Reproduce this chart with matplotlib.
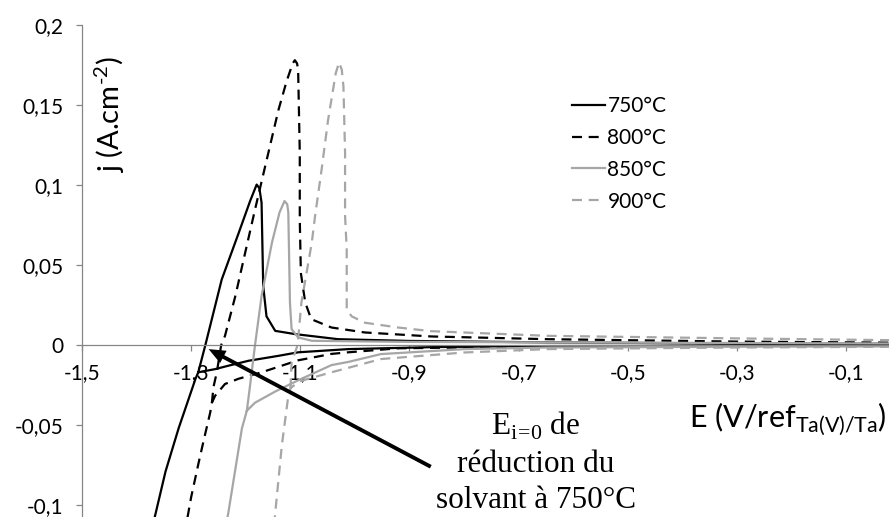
import numpy as np
import matplotlib.pyplot as plt
from matplotlib.ticker import FuncFormatter

nan = np.nan

# cyclic voltammograms (E in V, j in A/cm2)
# each sweep: cathodic branch right -> left down to the bottom, nan, then anodic branch back up
E_750 = [0.0, -0.3, -0.647, -0.85, -1.012, -1.104, -1.14, -1.195, -1.232, -1.256, -1.287,
         -1.292, -1.323, -1.347, -1.365, -1.37, nan,
         -1.287, -1.274, -1.244, -1.213, -1.192, -1.18, -1.175, -1.171, -1.168, -1.162,
         -1.146, -1.11, -1.031, -0.9, -0.647, -0.3, 0.0]
j_750 = [-0.0003, -0.0004, -0.0006, -0.0012, -0.0025, -0.0045, -0.0067, -0.0098, -0.0129, -0.015, -0.017,
         -0.021, -0.052, -0.079, -0.105, -0.112, nan,
         -0.017, 0.0, 0.041, 0.070, 0.090, 0.1003, 0.098, 0.089, 0.037, 0.018,
         0.0089, 0.0069, 0.0037, 0.0026, 0.0017, 0.001, 0.0008]

E_800 = [0.0, -0.3, -0.647, -0.921, -1.012, -1.043, -1.104, -1.171, -1.213, -1.238, -1.256, -1.262,
         -1.265, -1.276, -1.286, -1.3, -1.309, nan,
         -1.262, -1.259, -1.253, -1.245, -1.238, -1.219, -1.201, -1.183, -1.168, -1.14, -1.125,
         -1.114, -1.11, -1.106, -1.104, -1.101, -1.101, -1.099, -1.091, -1.08, -1.043, -0.982,
         -0.86, -0.647, -0.3, 0.0]
j_800 = [-0.0004, -0.0005, -0.0008, -0.002, -0.0045, -0.0055, -0.0095, -0.017, -0.021, -0.0243, -0.0316, -0.036,
         -0.042, -0.058, -0.073, -0.095, -0.112, nan,
         -0.036, -0.026, -0.017, 0.0, 0.0058, 0.0307, 0.0578, 0.0847, 0.1065, 0.147, 0.165,
         0.176, 0.178, 0.176, 0.172, 0.12, 0.0785, 0.045, 0.0266, 0.0162, 0.011, 0.0079,
         0.0054, 0.0037, 0.0022, 0.0015]

E_850 = [0.0, -0.3, -0.647, -0.799, -0.952, -1.012, -1.043, -1.104, -1.146, -1.183, -1.198,
         -1.207, -1.232, -1.236, nan,
         -1.198, -1.192, -1.183, -1.171, -1.152, -1.138, -1.129, -1.124, -1.122, -1.119, -1.116,
         -1.104, -1.079, -1.031, -0.9, -0.5, 0.0]
j_850 = [-0.0008, -0.001, -0.0015, -0.0025, -0.0056, -0.0105, -0.0125, -0.022, -0.029, -0.036, -0.041,
         -0.052, -0.105, -0.112, nan,
         -0.041, -0.025, 0.0, 0.0307, 0.064, 0.083, 0.090, 0.088, 0.083, 0.0266, 0.01,
         0.0048, 0.0027, 0.0025, 0.002, 0.0015, 0.001]

E_900 = [0.0, -0.3, -0.647, -0.799, -0.952, -1.043, -1.085, -1.104, -1.118,
         -1.122, -1.134, -1.146, -1.148, nan,
         -1.118, -1.116, -1.105, -1.098, -1.079, -1.073, -1.061, -1.049, -1.035, -1.029, -1.024,
         -1.021, -1.018, -1.018, -1.015, -1.015, -1.006, -0.982, -0.921, -0.86, -0.647, -0.3, 0.0]
j_900 = [-0.001, -0.0015, -0.0025, -0.0046, -0.0087, -0.017, -0.021, -0.023, -0.027,
         -0.0316, -0.063, -0.105, -0.112, nan,
         -0.027, -0.0108, 0.0, 0.0266, 0.064, 0.0806, 0.1097, 0.141, 0.170, 0.1766, 0.172,
         0.1616, 0.12, 0.0806, 0.06, 0.0224, 0.018, 0.014, 0.011, 0.0087, 0.0058, 0.0042, 0.003]

labels = ['750°C', '800°C', '850°C', '900°C']
x_ticks = [-1.5, -1.3, -1.1, -0.9, -0.7, -0.5, -0.3, -0.1]
y_ticks = [-0.1, -0.05, 0, 0.05, 0.1, 0.15, 0.2]

grey = '#A6A6A6'
axis_grey = '#868686'

fig = plt.figure(figsize=(8.89, 5.17), dpi=100)
ax = fig.add_axes([82 / 889, 0.0, (900.7 - 82) / 889, (517 - 25) / 517])

ax.plot(E_750, j_750, color='black', lw=1.6, label=labels[0])
ax.plot(E_800, j_800, color='black', lw=1.6, dashes=(4.5, 3), label=labels[1])
ax.plot(E_850, j_850, color=grey, lw=1.6, label=labels[2])
ax.plot(E_900, j_900, color=grey, lw=1.6, dashes=(4.5, 3), label=labels[3])

ax.set_xlim(-1.5, 0)
ax.set_ylim(-0.1074, 0.2)

for s in ['top', 'right']:
    ax.spines[s].set_visible(False)
ax.spines['bottom'].set_position(('data', 0))
ax.spines['bottom'].set_color(axis_grey)
ax.spines['left'].set_color(axis_grey)
ax.spines['bottom'].set_linewidth(0.9)
ax.spines['left'].set_linewidth(0.9)

ax.set_xticks(x_ticks)
ax.set_yticks(y_ticks)
fmt = FuncFormatter(lambda v, p: f'{v:g}'.replace('.', ','))
ax.xaxis.set_major_formatter(fmt)
ax.yaxis.set_major_formatter(fmt)
ax.tick_params(axis='x', direction='out', length=4, width=0.9, color=axis_grey, pad=9,
               labelsize=15)
ax.tick_params(axis='y', direction='out', length=4.5, width=0.9, color=axis_grey, pad=9,
               labelsize=15)
for t in ax.get_xticklabels() + ax.get_yticklabels():
    t.set_fontfamily('Lato')

leg = ax.legend(loc='upper left', bbox_to_anchor=(572 / 889, (517 - 96) / 517),
                bbox_transform=fig.transFigure, frameon=False, borderpad=0, borderaxespad=0,
                handlelength=1.6, handletextpad=0.1, labelspacing=0.57,
                prop={'family': 'Lato', 'size': 15})

fig.text(110 / 889, (517 - 115) / 517, 'j (A.cm$^{\\mathregular{\u20102}}$)', rotation=90,
         ha='center', va='center', family=['Lato', 'DejaVu Sans'], fontsize=21)
fig.text(887 / 889, (517 - 427) / 517, r'E (V/ref$_{\mathregular{Ta(V)/Ta}}$)',
         ha='right', va='baseline', family='Lato', fontsize=22)

serif = 'Liberation Serif'
fig.text(536 / 889, (517 - 435) / 517, r'E$_{\mathregular{i\!=\!0}}$ de', ha='center',
         va='baseline', family=serif, fontsize=22.5)
fig.text(536 / 889, (517 - 472) / 517, 'réduction du', ha='center', va='baseline',
         family=serif, fontsize=22.5)
fig.text(536 / 889, (517 - 508) / 517, 'solvant à 750°C', ha='center', va='baseline',
         family=serif, fontsize=22.5)

ax.annotate('', xy=(-1.268, -0.0025), xytext=(-0.861, -0.076),
            arrowprops=dict(arrowstyle='simple,head_length=0.6,head_width=0.5,tail_width=0.14',
                            facecolor='black', edgecolor='none', lw=0, mutation_scale=20,
                            shrinkA=0, shrinkB=0))

fig.savefig('out.png', dpi=100)
